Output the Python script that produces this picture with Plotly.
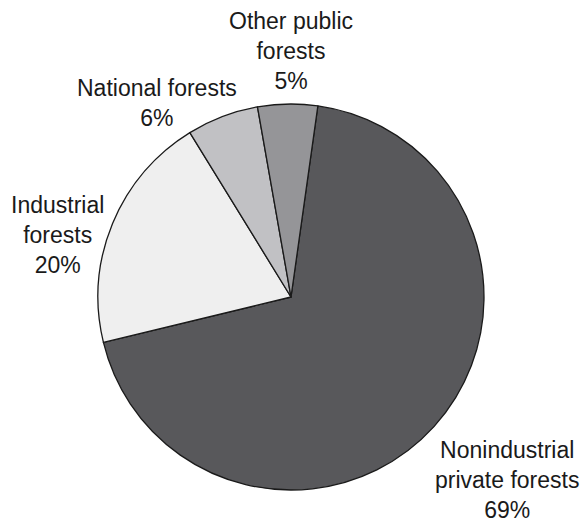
import plotly.graph_objects as go

# Forest ownership shares (percent), listed clockwise from the top
owners = ["Nonindustrial<br>private forests", "Industrial<br>forests",
          "National forests", "Other public<br>forests"]
shares = [69, 20, 6, 5]
colors = ["#58585b", "#efefef", "#c1c1c4", "#959598"]

# Label anchor points (paper coordinates) for each slice's caption
label_x = [0.867, 0.099, 0.268, 0.497]
label_y = [0.086, 0.553, 0.804, 0.903]

W, H = 585, 525
cx, cy, r = 291, 297, 193

fig = go.Figure(go.Pie(
    labels=owners,
    values=shares,
    sort=False,
    direction="clockwise",
    rotation=8,
    textinfo="none",
    hoverinfo="label+percent",
    marker=dict(colors=colors, line=dict(color="#1a1a1a", width=1.3)),
    domain=dict(x=[(cx - r) / W, (cx + r) / W],
                y=[1 - (cy + r) / H, 1 - (cy - r) / H]),
    showlegend=False,
))

for name, val, x, y in zip(owners, shares, label_x, label_y):
    fig.add_annotation(
        text=f"{name}<br>{val}%",
        x=x, y=y, xref="paper", yref="paper",
        xanchor="center", yanchor="middle", align="center",
        showarrow=False,
        font=dict(family="Liberation Sans, Arial, sans-serif", size=23, color="#1a1a1a"),
    )

fig.update_layout(
    width=W, height=H,
    margin=dict(l=0, r=0, t=0, b=0),
    paper_bgcolor="white",
    plot_bgcolor="white",
)

fig.write_html("out.html")
